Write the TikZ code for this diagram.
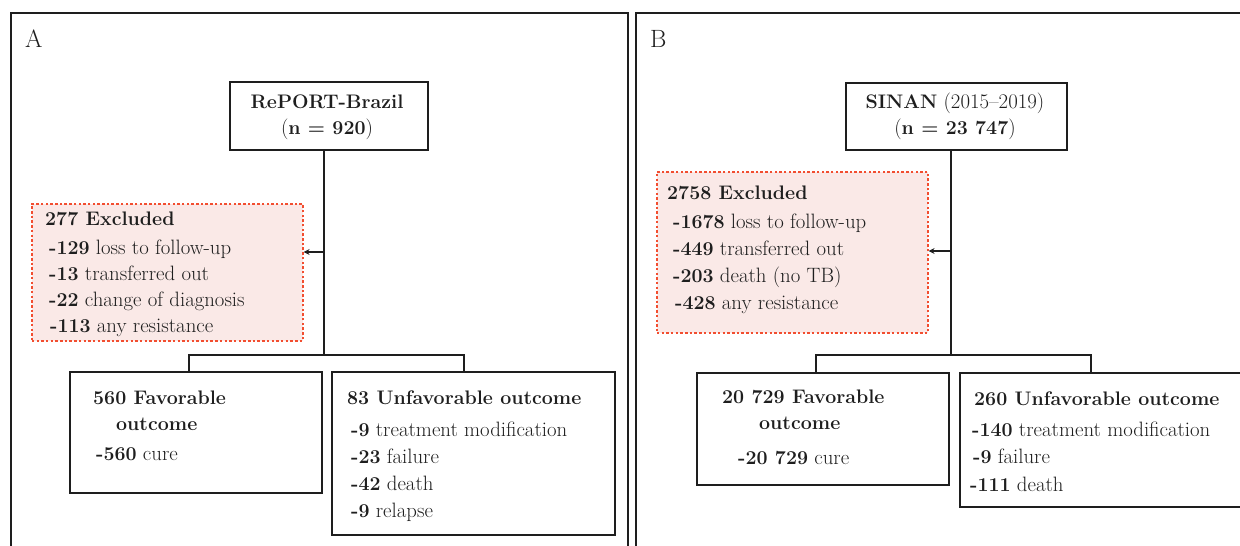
\documentclass[tikz,border=0pt]{standalone}
\usepackage{fontspec}
\usetikzlibrary{arrows.meta}
\definecolor{linec}{RGB}{30,30,30}
\definecolor{exfill}{RGB}{250,233,231}
\definecolor{exdraw}{RGB}{242,78,48}
\newcommand\bx[1]{{\fontsize{19.6}{22}\selectfont\bfseries #1}}
\begin{document}
\begin{tikzpicture}[x=1pt,y=-1pt,
  font=\fontsize{20.8}{24}\selectfont,
  panel/.style={draw=linec,line width=1.8pt},
  box/.style={draw=linec,line width=1.8pt,inner sep=0pt,anchor=north west},
  exbox/.style={draw=exdraw,fill=exfill,line width=1.6pt,dash pattern=on 2.5pt off 2.2pt,inner sep=0pt,anchor=north west},
  conn/.style={draw=linec,line width=1.8pt},
  arr/.style={draw=linec,line width=1.8pt,-{Stealth[length=6pt,width=6pt]}},
  txt/.style={anchor=base west,inner sep=0pt,text=linec},
  ctxt/.style={anchor=base,inner sep=0pt,text=linec},
  plabel/.style={anchor=base west,inner sep=0pt,font=\fontsize{25}{28}\selectfont,text=linec}
]
\useasboundingbox (0,0) rectangle (1240,546);
% panels
\draw[panel] (11,560) -- (11,13) -- (628,13) -- (628,560);
\draw[panel] (636,560) -- (636,13) -- (1260,13);
\node[plabel] (la) at (25,47) {A};
\node[plabel] (lb) at (650,47) {B};

% ---------- Panel A ----------
\node[box,minimum width=198pt,minimum height=68pt] (repA) at (229,81) {};
\node[ctxt] (repA1) at (327,108) {\bx{RePORT-Brazil}};
\node[ctxt] (repA2) at (327,134) {(\bx{n = 920})};

\node[exbox,minimum width=271pt,minimum height=137pt] (exA) at (31,203) {};
\node[txt] (exA0) at (45,225) {\bx{277 Excluded}};
\node[txt] (exA1) at (49,254) {\bx{-129} loss to follow-up};
\node[txt] (exA2) at (49,280) {\bx{-13} transferred out};
\node[txt] (exA3) at (49,306) {\bx{-22} change of diagnosis};
\node[txt] (exA4) at (50,332) {\bx{-113} any resistance};

\node[box,minimum width=252pt,minimum height=121pt] (favA) at (69,371) {};
\node[txt] (favA0) at (93,404) {\bx{560 Favorable}};
\node[txt] (favA1) at (116,430) {\bx{outcome}};
\node[txt] (favA2) at (96,460) {\bx{-560} cure};

\node[box,minimum width=283pt,minimum height=163pt] (unfA) at (331,371) {};
\node[txt] (unfA0) at (347,404) {\bx{83 Unfavorable outcome}};
\node[txt] (unfA1) at (351,436) {\bx{-9} treatment modification};
\node[txt] (unfA2) at (351,463) {\bx{-23} failure};
\node[txt] (unfA3) at (351,490) {\bx{-42} death};
\node[txt] (unfA4) at (351,517) {\bx{-9} relapse};

\coordinate (jA) at (324,355);
\coordinate (aA) at (324,252);
\coordinate (bA1) at (189,355);
\coordinate (bA2) at (464,355);
\draw[conn] (repA.south -| jA) -- (jA);
\draw[conn] (bA1 |- favA.north) -- (bA1) -- (bA2) -- (bA2 |- unfA.north);
\draw[arr] (aA) -- (aA -| exA.east);

% ---------- Panel B ----------
\node[box,minimum width=221pt,minimum height=67pt] (repB) at (845,82) {};
\node[ctxt] (repB1) at (955,108) {\bx{SINAN} (2015--2019)};
\node[ctxt] (repB2) at (955,134) {(\bx{n = 23 747})};

\node[exbox,minimum width=271pt,minimum height=161pt] (exB) at (656,171) {};
\node[txt] (exB0) at (667,199) {\bx{2758 Excluded}};
\node[txt] (exB1) at (673,228) {\bx{-1678} loss to follow-up};
\node[txt] (exB2) at (673,255) {\bx{-449} transferred out};
\node[txt] (exB3) at (673,282) {\bx{-203} death (no TB)};
\node[txt] (exB4) at (675,309) {\bx{-428} any resistance};

\node[box,minimum width=252pt,minimum height=112pt] (favB) at (696,372) {};
\node[txt] (favB0) at (722,403) {\bx{20 729 Favorable}};
\node[txt] (favB1) at (759,429) {\bx{outcome}};
\node[txt] (favB2) at (738,464) {\bx{-20 729} cure};

\node[box,minimum width=300pt,minimum height=134pt] (unfB) at (959,372) {};
\node[txt] (unfB0) at (974,405) {\bx{260 Unfavorable outcome}};
\node[txt] (unfB1) at (972,436) {\bx{-140} treatment modification};
\node[txt] (unfB2) at (973,463) {\bx{-9} failure};
\node[txt] (unfB3) at (970,491) {\bx{-111} death};

\coordinate (jB) at (951,355);
\coordinate (aB) at (951,251);
\coordinate (bB1) at (816,355);
\coordinate (bB2) at (1091,355);
\draw[conn] (repB.south -| jB) -- (jB);
\draw[conn] (bB1 |- favB.north) -- (bB1) -- (bB2) -- (bB2 |- unfB.north);
\draw[arr] (aB) -- (aB -| exB.east);
\end{tikzpicture}
\end{document}
